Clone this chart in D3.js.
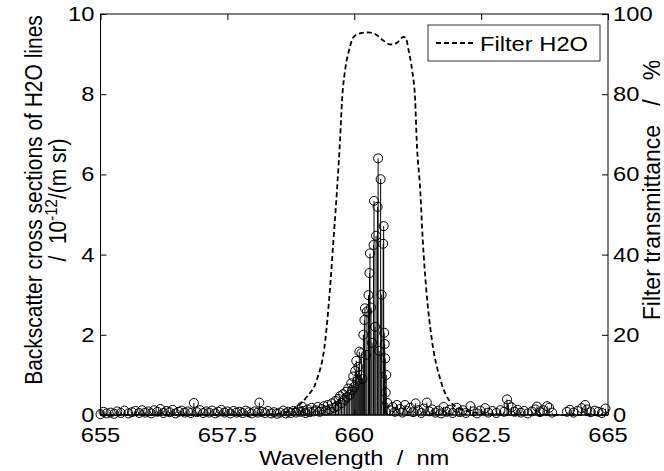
<!DOCTYPE html>
<html>
<head>
  <script src="https://d3js.org/d3.v7.min.js"></script>
  <style>
    body { margin: 0; background: #fff; }
    text { font-family: "Liberation Sans", Arial, sans-serif; fill: #000; white-space: pre; }
  </style>
</head>
<body>
  <div id="chart"></div>
  <script>
    // H2O line positions (nm) and backscatter cross sections (1e-12 /(m sr))
    var lineWl = [
      655.00, 655.06, 655.12, 655.20, 655.27, 655.33, 655.40, 655.47, 655.55, 655.62,
      655.69, 655.76, 655.82, 655.88, 655.94, 656.00, 656.06, 656.12, 656.18, 656.24,
      656.30, 656.36, 656.42, 656.48, 656.54, 656.60, 656.66, 656.72, 656.78, 656.84,
      656.90, 656.96, 657.02, 657.08, 657.14, 657.20, 657.26, 657.32, 657.38, 657.44,
      657.50, 657.56, 657.62, 657.68, 657.74, 657.80, 657.86, 657.92, 657.98, 658.04,
      658.10, 658.13, 658.18, 658.24, 658.30, 658.36, 658.42, 658.48, 658.54, 658.60,
      658.65, 658.70, 658.75, 658.80, 658.85, 658.90, 658.94, 658.97,
      659.00, 659.04, 659.08, 659.12, 659.16, 659.20, 659.24, 659.28, 659.32, 659.36,
      659.40, 659.44, 659.48, 659.52, 659.56, 659.60, 659.63, 659.66, 659.69, 659.72,
      659.75, 659.78, 659.81, 659.84, 659.86, 659.88, 659.91, 659.94, 659.96, 659.98,
      660.00, 660.02, 660.04, 660.06, 660.08, 660.10, 660.12, 660.14, 660.16, 660.18,
      660.20, 660.21, 660.23, 660.25, 660.28, 660.30, 660.31, 660.33, 660.35, 660.38,
      660.39, 660.41, 660.43, 660.46, 660.47, 660.49, 660.52, 660.54, 660.57, 660.58,
      660.59, 660.60, 660.61, 660.62, 660.63,
      660.65, 660.70, 660.76, 660.80, 660.84, 660.90, 660.95, 661.00, 661.05, 661.10,
      661.16, 661.21, 661.26, 661.32, 661.37, 661.43, 661.48, 661.54, 661.60, 661.66,
      661.71, 661.76, 661.82, 661.88, 661.94, 662.02, 662.08, 662.14, 662.20, 662.29,
      662.35, 662.42, 662.48, 662.58, 662.64, 662.72, 662.80, 662.88, 662.95, 663.01,
      663.04, 663.10, 663.16, 663.22, 663.28, 663.35, 663.42, 663.50, 663.57, 663.60,
      663.66, 663.72, 663.80, 663.84, 663.90, 664.19, 664.25, 664.32, 664.40, 664.48,
      664.55, 664.59, 664.66, 664.74, 664.81, 664.88, 664.95
    ];
    var lineSigma = [
      0.02, 0.08, 0.04, 0.06, 0.03, 0.09, 0.05, 0.11, 0.04, 0.07,
      0.10, 0.05, 0.12, 0.06, 0.09, 0.04, 0.12, 0.08, 0.15, 0.05,
      0.10, 0.07, 0.13, 0.04, 0.08, 0.11, 0.06, 0.09, 0.05, 0.30,
      0.07, 0.12, 0.05, 0.09, 0.06, 0.11, 0.04, 0.08, 0.13, 0.06,
      0.09, 0.04, 0.10, 0.06, 0.08, 0.05, 0.11, 0.07, 0.04, 0.09,
      0.06, 0.31, 0.08, 0.05, 0.10, 0.04, 0.07, 0.03, 0.06, 0.11,
      0.04, 0.08, 0.05, 0.10, 0.06, 0.12, 0.08, 0.21,
      0.10, 0.05, 0.14, 0.07, 0.18, 0.09, 0.12, 0.20, 0.08, 0.15,
      0.22, 0.11, 0.25, 0.14, 0.29, 0.18, 0.35, 0.22, 0.40, 0.47,
      0.30, 0.52, 0.38, 0.58, 0.45, 0.66, 0.50, 0.79, 0.62, 0.96,
      0.70, 1.10, 1.35, 0.85, 1.20, 1.58, 1.00, 1.54, 0.90, 2.00,
      2.37, 2.66, 1.50, 2.58, 2.99, 3.54, 4.03, 2.68, 1.80, 4.24,
      5.34, 2.20, 4.47, 5.19, 6.40, 1.60, 5.88, 3.00, 4.27, 4.71,
      2.05, 1.77, 1.41, 0.56, 1.00,
      0.30, 0.12, 0.20, 0.08, 0.25, 0.15, 0.06, 0.25, 0.10, 0.18,
      0.07, 0.29, 0.12, 0.05, 0.16, 0.31, 0.09, 0.14, 0.06, 0.11,
      0.04, 0.20, 0.08, 0.13, 0.05, 0.18, 0.07, 0.12, 0.05, 0.22,
      0.09, 0.04, 0.11, 0.17, 0.06, 0.10, 0.05, 0.12, 0.08, 0.39,
      0.25, 0.19, 0.08, 0.13, 0.06, 0.10, 0.04, 0.09, 0.14, 0.21,
      0.07, 0.12, 0.22, 0.18, 0.06, 0.08, 0.13, 0.06, 0.10, 0.17,
      0.25, 0.14, 0.07, 0.11, 0.08, 0.05, 0.16
    ];

    // Filter transmittance curve (%)
    var filterWl = [655.0, 658.0, 658.54, 658.87, 659.07, 659.26, 659.43, 659.52, 659.59, 659.66,
                    659.72, 659.76, 659.82, 659.89, 659.99, 660.12, 660.28, 660.41, 660.58, 660.71,
                    660.84, 660.97, 661.02, 661.07, 661.14, 661.20, 661.23, 661.30, 661.35, 661.42,
                    661.53, 661.70, 661.92, 662.22, 662.60, 663.5, 665.0];
    var filterT  = [0.0, 0.0, 0.4, 2.1, 4.6, 8.7, 18.7, 31.2, 43.6, 56.1,
                    68.6, 78.6, 86.0, 90.6, 94.3, 95.2, 95.4, 95.0, 93.3, 92.4,
                    92.8, 94.3, 93.9, 91.0, 86.0, 78.6, 68.6, 56.1, 43.6, 31.2,
                    18.7, 8.7, 2.9, 1.0, 0.3, 0.0, 0.0];

    var xTicks = [655, 657.5, 660, 662.5, 665];
    var yTicks = [0, 2, 4, 6, 8, 10];
    var y2Ticks = [0, 20, 40, 60, 80, 100];

    var W = 664, H = 471;
    var margin = { top: 14, right: 56, bottom: 56, left: 100.5 };
    var width = W - margin.left - margin.right;
    var height = H - margin.top - margin.bottom;
    var stretch = 1.13;   // reference glyphs look horizontally stretched

    var svg = d3.select('#chart').append('svg')
      .attr('width', W)
      .attr('height', H);

    var g = svg.append('g')
      .attr('transform', 'translate(' + margin.left + ',' + margin.top + ')');

    var x = d3.scaleLinear().domain([655, 665]).range([0, width]);
    var y = d3.scaleLinear().domain([0, 10]).range([height, 0]);
    var y2 = d3.scaleLinear().domain([0, 100]).range([height, 0]);

    // place a text with a horizontal stretch
    function label(parent, str, px, py, anchor, size, rot, sx) {
      var t = parent.append('g')
        .attr('transform', 'translate(' + px + ',' + py + ') scale(' + (sx || stretch) + ',1)' + (rot ? ' rotate(' + rot + ')' : ''))
        .append('text')
        .attr('text-anchor', anchor)
        .attr('font-size', size + 'px')
        .text(str);
      return t;
    }

    // filter curve (behind stems)
    var filterLine = d3.line()
      .x(function(d, i) { return x(filterWl[i]); })
      .y(function(d) { return y2(d); })
      .curve(d3.curveMonotoneX);

    g.append('path')
      .datum(filterT)
      .attr('d', filterLine)
      .attr('fill', 'none')
      .attr('stroke', '#000')
      .attr('stroke-width', 1.8)
      .attr('stroke-dasharray', '5,3');

    // stems
    var stems = g.selectAll('.stem')
      .data(lineWl)
      .enter()
      .append('g')
      .attr('class', 'stem');

    stems.append('line')
      .attr('x1', function(d) { return x(d); })
      .attr('x2', function(d) { return x(d); })
      .attr('y1', y(0))
      .attr('y2', function(d, i) { return y(lineSigma[i]); })
      .attr('stroke', '#000')
      .attr('stroke-width', 1);

    stems.append('circle')
      .attr('cx', function(d) { return x(d); })
      .attr('cy', function(d, i) { return y(lineSigma[i]); })
      .attr('r', 4.5)
      .attr('fill', 'none')
      .attr('stroke', '#000')
      .attr('stroke-width', 1);

    // baseline
    g.append('line')
      .attr('x1', 0).attr('x2', width)
      .attr('y1', y(0)).attr('y2', y(0))
      .attr('stroke', '#000');

    // frame
    g.append('rect')
      .attr('width', width)
      .attr('height', height)
      .attr('fill', 'none')
      .attr('stroke', '#000')
      .attr('stroke-width', 1);

    // axes with inward ticks
    var tickLen = 6;
    g.append('g')
      .attr('transform', 'translate(0,' + height + ')')
      .call(d3.axisBottom(x).tickValues(xTicks).tickSize(-tickLen).tickFormat(''))
      .call(function(a) { a.select('.domain').remove(); });
    g.append('g')
      .call(d3.axisTop(x).tickValues(xTicks).tickSize(-tickLen).tickFormat(''))
      .call(function(a) { a.select('.domain').remove(); });
    g.append('g')
      .call(d3.axisLeft(y).tickValues(yTicks).tickSize(-tickLen).tickFormat(''))
      .call(function(a) { a.select('.domain').remove(); });
    g.append('g')
      .attr('transform', 'translate(' + width + ',0)')
      .call(d3.axisRight(y2).tickValues(y2Ticks).tickSize(-tickLen).tickFormat(''))
      .call(function(a) { a.select('.domain').remove(); });

    // tick labels
    xTicks.forEach(function(v) {
      label(g, String(v), x(v), height + 27, 'middle', 21);
    });
    yTicks.forEach(function(v) {
      label(g, String(v), -6, y(v) + 7, 'end', 21);
    });
    y2Ticks.forEach(function(v) {
      label(g, String(v), width + 5, y2(v) + 7, 'start', 21);
    });

    // axis titles
    label(svg, 'Wavelength  /  nm', margin.left + width / 2, 465, 'middle', 21);
    label(svg, 'Backscatter cross sections of H2O lines', 42, 200, 'middle', 21, -90);
    var l2 = label(svg, '', 66, 200, 'middle', 21, -90);
    l2.append('tspan').text('/  10');
    l2.append('tspan').attr('dy', -8).attr('font-size', '15px').text('-12');
    l2.append('tspan').attr('dy', 8).text('/(m sr)');
    label(svg, 'Filter transmittance   /   %', 660, 190, 'middle', 23, -90, 1.03);

    // legend
    var lg = svg.append('g');
    lg.append('rect')
      .attr('x', 428).attr('y', 25)
      .attr('width', 172).attr('height', 36)
      .attr('fill', '#fff')
      .attr('stroke', '#333')
      .attr('stroke-width', 1);
    lg.append('line')
      .attr('x1', 436).attr('x2', 473)
      .attr('y1', 43).attr('y2', 43)
      .attr('stroke', '#000')
      .attr('stroke-width', 1.8)
      .attr('stroke-dasharray', '5,3');
    label(lg, 'Filter H2O', 480, 51, 'start', 21);
  </script>
</body>
</html>
